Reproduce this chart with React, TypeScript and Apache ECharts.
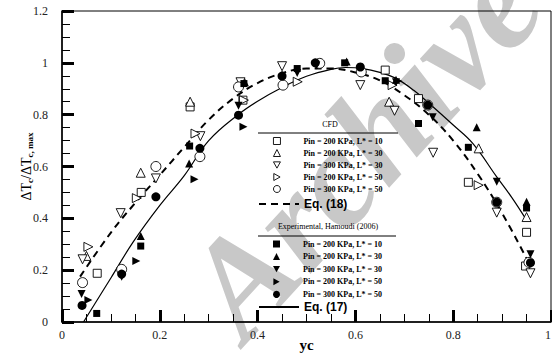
import React, { useEffect, useRef } from "react";
import * as echarts from "echarts";

// ---------- data ----------
const xTickValues = [0, 0.2, 0.4, 0.6, 0.8, 1];
const yTickValues = [0, 0.2, 0.4, 0.6, 0.8, 1, 1.2];

const cfdNames = [
  "Pin = 200 KPa, L* = 10",
  "Pin = 200 KPa, L* = 30",
  "Pin = 300 KPa, L* = 30",
  "Pin = 200 KPa, L* = 50",
  "Pin = 300 KPa, L* = 50",
];
const expNames = [
  "Pin = 200 KPa, L* = 10",
  "Pin = 200 KPa, L* = 30",
  "Pin = 300 KPa, L* = 30",
  "Pin = 200 KPa, L* = 50",
  "Pin = 300 KPa, L* = 50",
];

// CFD (hollow markers)
const cfd200L10 = [[0.072, 0.188], [0.162, 0.5], [0.262, 0.83], [0.37, 0.856], [0.661, 0.972], [0.729, 0.862], [0.831, 0.539], [0.95, 0.346], [0.948, 0.216]];
const cfd200L30 = [[0.05, 0.255], [0.161, 0.576], [0.262, 0.85], [0.669, 0.85], [0.852, 0.67], [0.95, 0.405]];
const cfd300L30 = [[0.042, 0.242], [0.12, 0.42], [0.192, 0.554], [0.283, 0.717], [0.365, 0.925], [0.45, 0.987], [0.61, 0.914], [0.68, 0.815], [0.759, 0.653], [0.889, 0.422], [0.958, 0.188]];
const cfd200L50 = [[0.054, 0.29], [0.153, 0.478], [0.273, 0.727], [0.372, 0.856], [0.482, 0.927], [0.676, 0.914], [0.852, 0.528]];
const cfd300L50 = [[0.042, 0.152], [0.122, 0.203], [0.192, 0.6], [0.282, 0.638], [0.361, 0.907], [0.452, 0.914], [0.527, 0.998], [0.612, 0.965], [0.748, 0.837], [0.889, 0.462], [0.955, 0.23]];

// Experimental, Hamoudi (2006) (filled markers)
const exp200L10 = [[0.071, 0.033], [0.161, 0.293], [0.261, 0.679], [0.372, 0.92], [0.481, 0.978], [0.578, 1.0], [0.661, 0.931], [0.729, 0.766], [0.831, 0.674], [0.95, 0.44]];
const exp200L30 = [[0.161, 0.332], [0.26, 0.612], [0.374, 0.925], [0.45, 0.955], [0.582, 1.005], [0.683, 0.935], [0.848, 0.751], [0.95, 0.464]];
const exp300L30 = [[0.04, 0.108], [0.122, 0.175], [0.361, 0.834], [0.481, 0.961], [0.52, 0.99], [0.683, 0.925], [0.758, 0.79], [0.889, 0.541], [0.958, 0.261]];
const exp200L50 = [[0.054, 0.085], [0.152, 0.235], [0.271, 0.551], [0.371, 0.753], [0.688, 0.93]];
const exp300L50 = [[0.041, 0.064], [0.122, 0.185], [0.192, 0.483], [0.282, 0.67], [0.361, 0.798], [0.45, 0.949], [0.518, 1.0], [0.61, 0.984], [0.748, 0.837], [0.889, 0.462], [0.958, 0.229]];

// Eq. (17) solid curve, Eq. (18) dashed curve
const eq17 = [[0.044, 0], [0.1, 0.17], [0.146, 0.31], [0.2, 0.45], [0.25, 0.565], [0.3, 0.7], [0.36, 0.8], [0.4, 0.852], [0.45, 0.905], [0.5, 0.948], [0.55, 0.975], [0.58, 0.982], [0.615, 0.978], [0.65, 0.963], [0.683, 0.94], [0.72, 0.893], [0.751, 0.843], [0.8, 0.76], [0.84, 0.689], [0.889, 0.56], [0.92, 0.48], [0.95, 0.393]];
const eq18 = [[0.037, 0.175], [0.1, 0.345], [0.15, 0.46], [0.2, 0.567], [0.25, 0.675], [0.3, 0.78], [0.35, 0.862], [0.4, 0.922], [0.45, 0.96], [0.5, 0.978], [0.55, 0.978], [0.6, 0.963], [0.65, 0.932], [0.7, 0.875], [0.75, 0.8], [0.8, 0.7], [0.85, 0.572], [0.9, 0.42], [0.95, 0.245]];

const SERIF = '"Liberation Serif", "Times New Roman", serif';
const SANS = '"Liberation Sans", Arial, sans-serif';

const cfdSeriesData = [cfd200L10, cfd200L30, cfd300L30, cfd200L50, cfd300L50];
const expSeriesData = [exp200L10, exp200L30, exp300L30, exp200L50, exp300L50];
const symbols = ["rect", "triangle", "triangle", "triangle", "circle"];
const rotations = [0, 0, 180, -90, 0];
const legendIcons = ["rect", "triangle", "path://M0,0 L10,0 L5,9 Z", "path://M0,0 L9,5 L0,10 Z", "circle"];
const cfdSizes = [8, 9, 9, 9, 10];
const expSizes = [7, 8, 8, 8, 9];

export default function App() {
  const ref = useRef<HTMLDivElement>(null);
  useEffect(() => {
    if (!ref.current) return;
    const chart = echarts.init(ref.current, undefined, { renderer: "svg" });

    const cfdSeries = cfdSeriesData.map((d, i) => ({
      type: "scatter",
      name: "CFD|" + cfdNames[i],
      data: d,
      symbol: symbols[i],
      symbolRotate: rotations[i],
      symbolSize: cfdSizes[i],
      symbolKeepAspect: true,
      itemStyle: { color: "#ffffff", borderColor: "#000000", borderWidth: 0.9, opacity: 1 },
      z: 3,
    }));
    const expSeries = expSeriesData.map((d, i) => ({
      type: "scatter",
      name: "EXP|" + expNames[i],
      data: d,
      symbol: symbols[i],
      symbolRotate: rotations[i],
      symbolSize: expSizes[i],
      symbolKeepAspect: true,
      itemStyle: { color: "#000000", borderWidth: 0, opacity: 1 },
      z: 4,
    }));

    const markerLegend = {
      orient: "vertical",
      left: 273,
      itemWidth: 7,
      itemHeight: 7,
      itemGap: 2,
      selectedMode: false,
      padding: 0,
      symbolKeepAspect: true,
      symbolRotate: 0,
      formatter: (n: string) => n.split("|").pop(),
      textStyle: { fontFamily: SERIF, fontWeight: "bold", fontSize: 8, lineHeight: 10, color: "#000", padding: [0, 0, 0, 18] },
      itemStyle: { borderWidth: 0.9 },
    };
    const lineLegend = {
      orient: "vertical",
      left: 258,
      itemWidth: 40,
      itemHeight: 10,
      selectedMode: false,
      padding: 0,
      itemStyle: { opacity: 0 },
      textStyle: { fontFamily: SANS, fontWeight: "bold", fontSize: 12, lineHeight: 14, color: "#000" },
    };

    const option: any = {
      animation: false,
      backgroundColor: "#ffffff",
      grid: { left: 62, right: 1, top: 11, bottom: 31, show: true, borderColor: "#000", borderWidth: 1, outerBoundsMode: "none", containLabel: false },
      xAxis: {
        type: "value",
        min: 0,
        max: 1,
        interval: 0.2,
        name: "yc",
        nameLocation: "middle",
        nameGap: 15,
        nameMoveOverlap: false,
        nameTextStyle: { fontFamily: SERIF, fontWeight: "bold", fontSize: 15, lineHeight: 15, color: "#000" },
        axisLine: { lineStyle: { color: "#000", width: 1.5 } },
        axisTick: { inside: true, length: 12, lineStyle: { color: "#000", width: 3 } },
        minorTick: { show: true, splitNumber: 4, length: 8, lineStyle: { color: "#000", width: 1 } },
        splitLine: { show: false },
        axisLabel: {
          fontFamily: SERIF,
          fontSize: 12,
          color: "#222",
          margin: 7,
          alignMaxLabel: "right",
          formatter: (v: number) => String(xTickValues.find((t) => Math.abs(t - v) < 1e-6) ?? v),
        },
      },
      yAxis: {
        type: "value",
        min: 0,
        max: 1.2,
        interval: 0.2,
        name: "{a|ΔT}{s|c}{a|/ΔT}{s|c, max}",
        nameLocation: "middle",
        nameRotate: 90,
        nameGap: 28,
        nameMoveOverlap: false,
        nameTextStyle: {
          rich: {
            a: { fontFamily: SERIF, fontSize: 14, color: "#000", lineHeight: 16 },
            s: { fontFamily: SERIF, fontSize: 9, fontWeight: "bold", color: "#000", verticalAlign: "bottom", lineHeight: 16, padding: [6, 0, 0, 0] },
          },
        },
        axisLine: { lineStyle: { color: "#000", width: 1.5 } },
        axisTick: { inside: true, length: 12, lineStyle: { color: "#000", width: 3 } },
        minorTick: { show: true, splitNumber: 4, length: 8, lineStyle: { color: "#000", width: 1 } },
        splitLine: { show: false },
        axisLabel: {
          fontFamily: SERIF,
          fontSize: 12,
          color: "#222",
          margin: 14,
          formatter: (v: number) => String(yTickValues.find((t) => Math.abs(t - v) < 1e-6) ?? v),
        },
      },
      legend: [
        { ...markerLegend, top: 136, data: cfdNames.map((n, i) => ({ name: "CFD|" + n, icon: legendIcons[i] })) },
        { ...lineLegend, top: 197, data: [{ name: "Eq. (18)" }] },
        { ...markerLegend, top: 239, itemGap: 2.6, data: expNames.map((n, i) => ({ name: "EXP|" + n, icon: legendIcons[i] })) },
        { ...lineLegend, top: 300, data: [{ name: "Eq. (17)" }] },
      ],
      graphic: [
        {
          type: "text",
          x: 262,
          y: 360,
          rotation: 0.83,
          z: -10,
          silent: true,
          style: { text: "Archive", font: 'italic bold 140px "Liberation Serif"', fill: "#c8c8c8", align: "left", verticalAlign: "bottom" },
        },
        { type: "text", x: 330, y: 124, z: 10, style: { text: "CFD", font: '8px "Liberation Serif"', fill: "#000", align: "center", verticalAlign: "middle" } },
        { type: "line", z: 10, shape: { x1: 258, y1: 133, x2: 398, y2: 133 }, style: { stroke: "#000", lineWidth: 1 } },
        { type: "text", x: 328, y: 226, z: 10, style: { text: "Experimental, Hamoudi (2006)", font: '8px "Liberation Serif"', fill: "#000", align: "center", verticalAlign: "middle" } },
        { type: "line", z: 10, shape: { x1: 258, y1: 236, x2: 396, y2: 236 }, style: { stroke: "#000", lineWidth: 1 } },
      ],
      series: [
        {
          type: "line",
          name: "Eq. (18)",
          data: eq18,
          smooth: 0.4,
          symbol: "none",
          lineStyle: { color: "#000", width: 2, type: [7, 5] },
          itemStyle: { color: "#000" },
          z: 2,
        },
        {
          type: "line",
          name: "Eq. (17)",
          data: eq17,
          smooth: 0.4,
          symbol: "none",
          lineStyle: { color: "#000", width: 1.2 },
          itemStyle: { color: "#000" },
          z: 2,
        },
        ...cfdSeries,
        ...expSeries,
      ],
    };
    chart.setOption(option);
    return () => chart.dispose();
  }, []);
  return <div ref={ref} style={{ position: "absolute", left: 0, top: 0, width: 552, height: 353, overflow: "hidden" }} />;
}
